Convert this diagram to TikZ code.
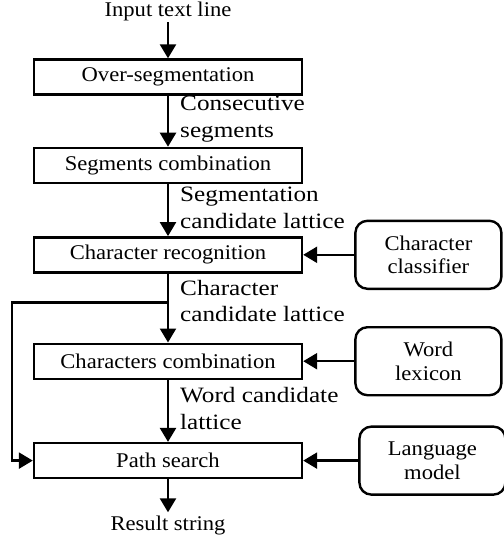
\documentclass[tikz,border=0pt]{standalone}
\usepackage{fontspec}
\setmainfont{Liberation Serif}[FakeStretch=1.08]
\newfontfamily\lblfont{Liberation Serif}[FakeStretch=1.15]
\usetikzlibrary{arrows.meta, positioning}

\begin{document}
\begin{tikzpicture}[
  x=1bp, y=1bp,
  box/.style={draw, line width=2.4bp, minimum height=35bp, minimum width=268bp, align=center,
    font=\fontsize{21}{24}\selectfont},
  model/.style={draw, line width=2.4bp, rounded corners=12bp, minimum height=68bp, minimum width=146bp,
    align=center, font=\fontsize{21}{24}\selectfont},
  txt/.style={inner sep=1bp, font=\fontsize{21}{24}\selectfont},
  lbl/.style={right, align=left, inner xsep=11bp, inner ysep=0pt, yshift=2bp,
    font=\lblfont\fontsize{22}{27}\selectfont},
  line/.style={-{Triangle[length=14bp, width=16bp]}, line width=2.4bp}
]
\useasboundingbox (0,0) rectangle (504,-539);

\node[box] (over) at (168,-77) {Over-segmentation};
\node[txt, above=36bp of over] (input) {Input text line};

\node[box, below=51bp of over] (seg) {Segments combination};
\node[box, below=52bp of seg] (recog) {Character recognition};
\node[box, below=69bp of recog] (comb) {Characters combination};
\node[box, below=62bp of comb] (search) {Path search};
\node[txt, inner sep=3bp, below=33bp of search] (result) {Result string};

\node[model, right=51bp of recog] (classif) {Character\\classifier};
\node[model, right=51bp of comb] (lexicon) {Word\\lexicon};
\node[model, right=55bp of search] (lm) {Language\\model};

\coordinate[below=29bp of recog] (fork);

\draw[line] (input) -- (over);
\draw[line] (over) -- node[lbl] {Consecutive\\segments} (seg);
\draw[line] (seg) -- node[lbl] {Segmentation\\candidate lattice} (recog);
\draw[line] (recog) -- node[lbl, yshift=5bp] {Character\\candidate lattice} (comb);
\draw[line] (comb) -- node[lbl] {Word candidate\\lattice} (search);
\draw[line] (search) -- (result);

\draw[line] (fork) -- ++(-156bp,0) |- (search.west);

\draw[line] (classif) -- (recog);
\draw[line] (lexicon) -- (comb);
\draw[line] (lm) -- (search);
\end{tikzpicture}
\end{document}
